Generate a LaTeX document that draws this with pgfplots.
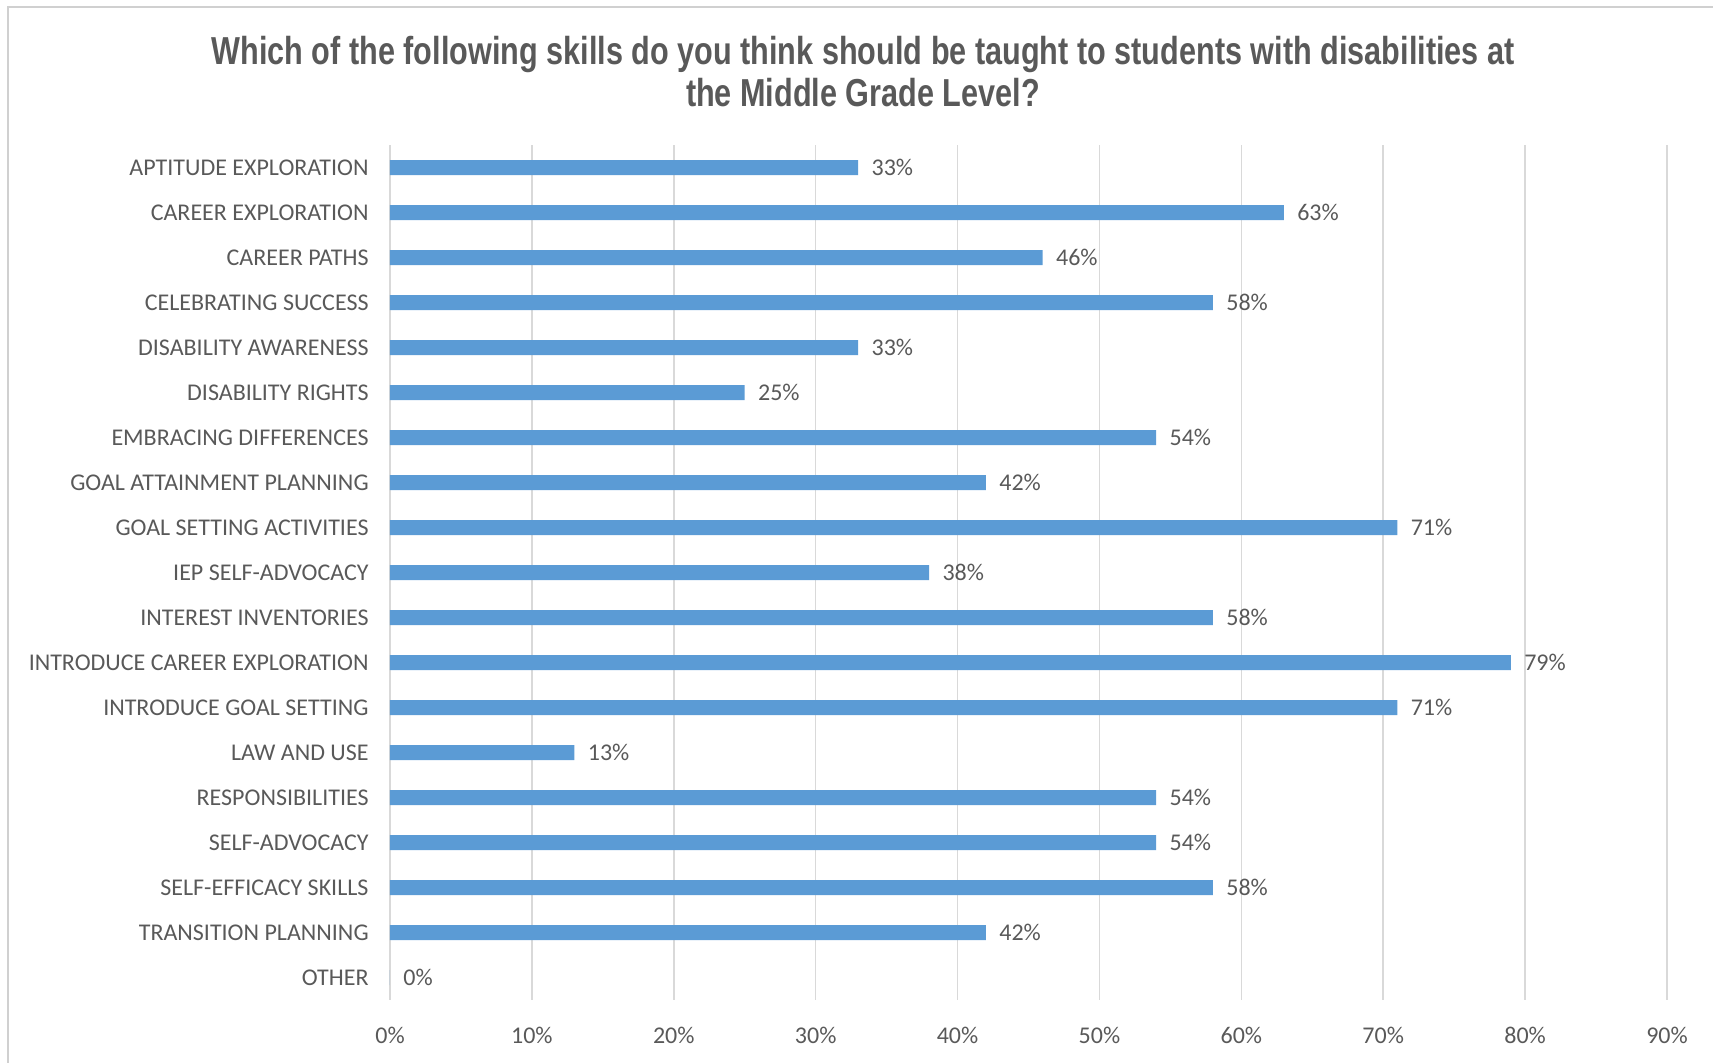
\documentclass[border=0pt]{standalone}
\usepackage{pgfplots}
\pgfplotsset{compat=1.18}
\usepackage{fontspec}
\setmainfont{Carlito}
\newfontfamily\titlefont[FakeStretch=0.785]{Liberation Sans}
\definecolor{barblue}{HTML}{5B9BD5}
\definecolor{txtgray}{HTML}{595959}
\definecolor{gridgray}{HTML}{D9D9D9}
\definecolor{framegray}{HTML}{D0D0D0}

\begin{document}
\begin{tikzpicture}
  \begin{axis}[
      name=ax,
      at={(0,0)}, anchor=south west,
      scale only axis,
      width=638.5pt,
      height=427.5pt,
      xbar, bar shift=0pt,
      bar width=7.5pt,
      xmin=0, xmax=90,
      ymin=-0.5, ymax=18.5,
      y dir=reverse,
      xtick={0,10,...,90},
      xticklabel={\pgfmathprintnumber{\tick}\%},
      ytick={0,...,18},
      yticklabels={APTITUDE EXPLORATION, CAREER EXPLORATION, CAREER PATHS,
        CELEBRATING SUCCESS, DISABILITY AWARENESS, DISABILITY RIGHTS,
        EMBRACING DIFFERENCES, GOAL ATTAINMENT PLANNING, GOAL SETTING ACTIVITIES,
        IEP SELF-ADVOCACY, INTEREST INVENTORIES, INTRODUCE CAREER EXPLORATION,
        INTRODUCE GOAL SETTING, LAW AND USE, RESPONSIBILITIES, SELF-ADVOCACY,
        SELF-EFFICACY SKILLS, TRANSITION PLANNING, OTHER},
      /pgf/number format/assume math mode=true,
      major tick length=0pt,
      axis line style={draw=none},
      xmajorgrids=true,
      major grid style={draw=gridgray, line width=0.75pt},
      tick label style={font=\fontsize{12}{14}\selectfont, text=txtgray},
      yticklabel style={anchor=east, inner sep=0pt, xshift=-10.5pt},
      xticklabel style={anchor=center, inner sep=0pt, yshift=-17.5pt},
      point meta=x,
      nodes near coords={\pgfmathprintnumber{\pgfplotspointmeta}\%},
      nodes near coords style={anchor=west, inner sep=0pt, xshift=6.5pt,
        font=\fontsize{12}{14}\selectfont, text=txtgray},
    ]
    \addplot[draw=none, fill=barblue] coordinates {
      (33,0) (63,1) (46,2) (58,3) (33,4) (25,5) (54,6) (42,7) (71,8) (38,9)
      (58,10) (79,11) (71,12) (13,13) (54,14) (54,15) (58,16) (42,17) (0,18)};
  \end{axis}
  \pgfresetboundingbox
  \path[use as bounding box] ([xshift=-195pt,yshift=-31pt]ax.south west)
    rectangle ([xshift=23pt,yshift=72.5pt]ax.north east);
  \draw[framegray, line width=1pt]
    ([xshift=-191pt,yshift=-40pt]ax.south west)
    -- ([xshift=-191pt,yshift=69pt]ax.north west)
    -- ([xshift=40pt,yshift=69pt]ax.north east);
  \node[anchor=center, align=center, text=txtgray,
        font=\titlefont\bfseries\fontsize{19.5}{21}\selectfont]
    at ([xshift=236.5pt,yshift=36.75pt]ax.north west)
    {Which of the following skills do you think should be taught to students with disabilities at\\
     the Middle Grade Level?};
\end{tikzpicture}
\end{document}
